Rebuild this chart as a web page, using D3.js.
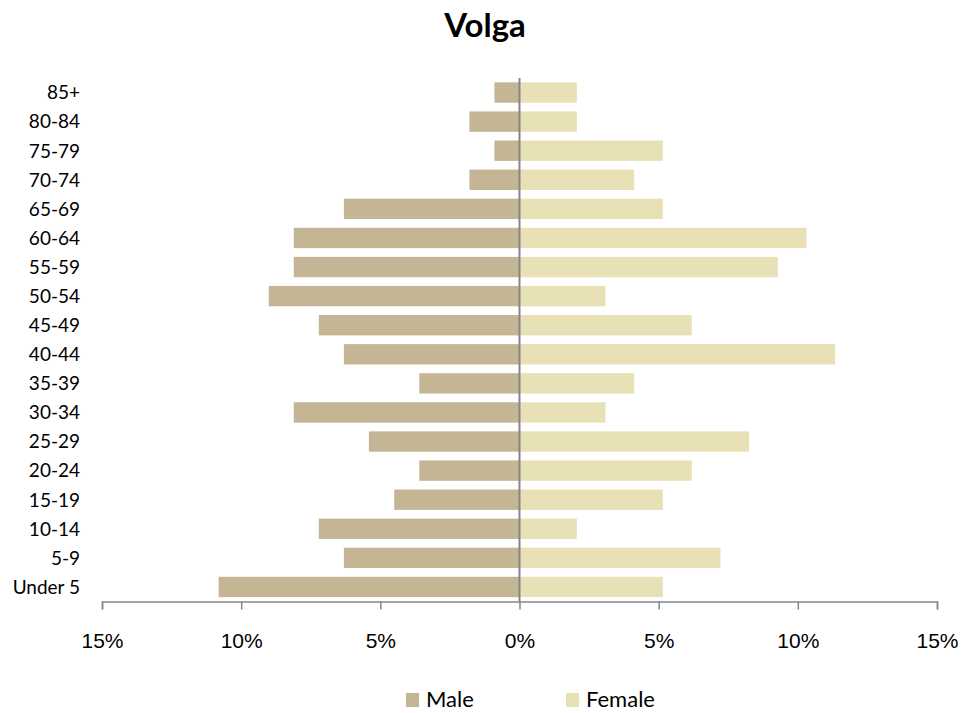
<!DOCTYPE html>
<html>
<head>
<meta charset="utf-8">
<script src="https://cdn.jsdelivr.net/npm/d3@7"></script>
<style>
  body { margin: 0; background: #fff; }
  svg { font-family: Lato, "Liberation Sans", sans-serif; }
</style>
</head>
<body>
<script>
// age groups, bottom to top
var ageGroups = ["Under 5", "5-9", "10-14", "15-19", "20-24", "25-29", "30-34", "35-39", "40-44",
  "45-49", "50-54", "55-59", "60-64", "65-69", "70-74", "75-79", "80-84", "85+"];
// share of population, percent
var maleValues = [10.81, 6.31, 7.21, 4.50, 3.60, 5.41, 8.11, 3.60, 6.31,
  7.21, 9.01, 8.11, 8.11, 6.31, 1.80, 0.90, 1.80, 0.90];
var femaleValues = [5.15, 7.22, 2.06, 5.15, 6.19, 8.25, 3.09, 4.12, 11.34,
  6.19, 3.09, 9.28, 10.31, 5.15, 4.12, 5.15, 2.06, 2.06];
var xTicks = [-15, -10, -5, 0, 5, 10, 15];

var width = 979;
var height = 713;
var plotLeft = 102, plotRight = 937, plotTop = 78, plotBottom = 601.5;
var maleColor = "#c4b694";
var femaleColor = "#e8e1b6";
var axisColor = "#868686";

var svg = d3.select("body").append("svg")
  .attr("width", width)
  .attr("height", height);

var xScale = d3.scaleLinear().domain([-15, 15]).range([plotLeft, plotRight]);
var yScale = d3.scaleBand().domain(ageGroups).range([plotBottom, plotTop]).paddingInner(0.3).paddingOuter(0.15);

// title
svg.append("text")
  .attr("x", 485)
  .attr("y", 37)
  .attr("text-anchor", "middle")
  .style("font-size", "33px")
  .style("font-weight", "bold")
  .text("Volga");

// bars
var rows = ageGroups.map((g, i) => ({ group: g, male: maleValues[i], female: femaleValues[i] }));

svg.append("g").selectAll("rect")
  .data(rows)
  .enter()
    .append("rect")
    .attr("x", d => xScale(-d.male))
    .attr("y", d => yScale(d.group))
    .attr("width", d => xScale(0) - xScale(-d.male))
    .attr("height", yScale.bandwidth())
    .attr("fill", maleColor);

svg.append("g").selectAll("rect")
  .data(rows)
  .enter()
    .append("rect")
    .attr("x", xScale(0))
    .attr("y", d => yScale(d.group))
    .attr("width", d => xScale(d.female) - xScale(0))
    .attr("height", yScale.bandwidth())
    .attr("fill", femaleColor);

// x axis
var xAxis = d3.axisBottom(xScale)
  .tickValues(xTicks)
  .tickSize(8)
  .tickPadding(24)
  .tickFormat(d => Math.abs(d) + "%");

var gx = svg.append("g")
  .attr("transform", "translate(0," + plotBottom + ")")
  .call(xAxis);
gx.select(".domain").attr("stroke", axisColor).attr("stroke-width", 1.5);
gx.selectAll(".tick line").attr("stroke", axisColor).attr("stroke-width", 1.5);
gx.selectAll(".tick text").style("font-size", "21px").attr("fill", "#000");

// centre line
svg.append("line")
  .attr("x1", xScale(0))
  .attr("x2", xScale(0))
  .attr("y1", plotTop)
  .attr("y2", plotBottom)
  .attr("stroke", axisColor)
  .attr("stroke-width", 2);

// category labels
svg.append("g").selectAll("text")
  .data(ageGroups)
  .enter()
    .append("text")
    .attr("x", 80)
    .attr("y", d => yScale(d) + yScale.bandwidth() / 2)
    .attr("dy", "0.36em")
    .attr("text-anchor", "end")
    .style("font-size", "19px")
    .text(d => d);

// legend
var legendItems = [
  { name: "Male", color: maleColor, x: 406 },
  { name: "Female", color: femaleColor, x: 566 }
];
var legend = svg.append("g");
legendItems.forEach(item => {
  legend.append("rect")
    .attr("x", item.x)
    .attr("y", 693)
    .attr("width", 13)
    .attr("height", 14)
    .attr("fill", item.color);
  legend.append("text")
    .attr("x", item.x + 20)
    .attr("y", 707)
    .style("font-size", "22px")
    .text(item.name);
});
</script>
</body>
</html>
